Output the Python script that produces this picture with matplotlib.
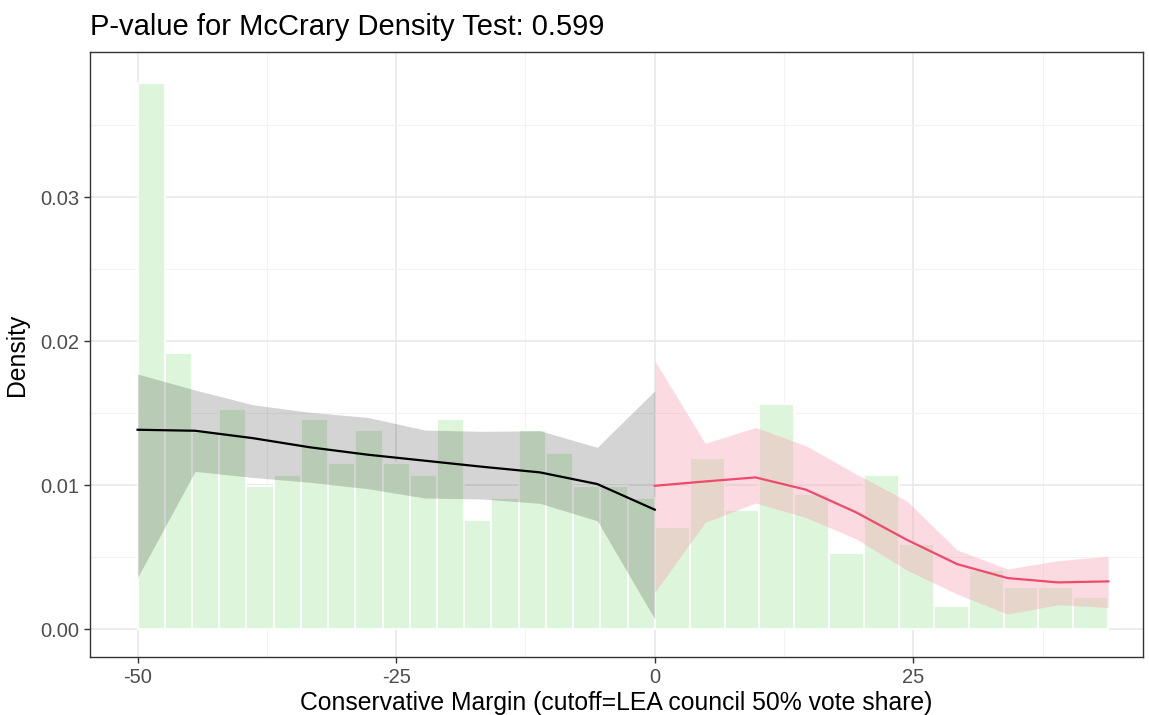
import numpy as np
import matplotlib
matplotlib.use("Agg")
import matplotlib.pyplot as plt

# ---- data ----
left_edges_start = -50.0
left_bin_width = 50.0 / 19
left_heights = [0.0379, 0.0192, 0.0137, 0.0153, 0.0099, 0.0107, 0.0146, 0.0115, 0.0138,
                0.0115, 0.0107, 0.0146, 0.0076, 0.0091, 0.0138, 0.0122, 0.0099, 0.0099, 0.0091]
right_bin_width = 43.84 / 13
right_heights = [0.0071, 0.0119, 0.0083, 0.0156, 0.0094, 0.0053, 0.0107, 0.0059,
                 0.0016, 0.0041, 0.0029, 0.0029, 0.0022]

left_x = [-50.0, -44.44, -38.89, -33.33, -27.78, -22.22, -16.67, -11.11, -5.56, 0.0]
left_fit = [0.01384, 0.01377, 0.01326, 0.01262, 0.01211, 0.01169, 0.01127, 0.01088, 0.01007, 0.00829]
left_hi = [0.01771, 0.0166, 0.01558, 0.01505, 0.0147, 0.01382, 0.01373, 0.01377, 0.01262, 0.01655]
left_lo = [0.00359, 0.01095, 0.01053, 0.01019, 0.00975, 0.0091, 0.00903, 0.00873, 0.00752, 0.00069]

right_x = [0.0, 4.87, 9.74, 14.61, 19.48, 24.36, 29.23, 34.10, 38.97, 43.84]
right_fit = [0.00995, 0.01025, 0.01053, 0.00968, 0.0081, 0.0062, 0.00451, 0.00354, 0.00324, 0.00331]
right_hi = [0.01863, 0.01289, 0.0140, 0.01273, 0.01076, 0.0089, 0.00549, 0.00417, 0.00475, 0.00505]
right_lo = [0.00255, 0.00741, 0.00875, 0.00775, 0.00625, 0.0041, 0.00243, 0.00104, 0.00169, 0.0015]

title = "P-value for McCrary Density Test: 0.599"
xlabel = "Conservative Margin (cutoff=LEA council 50% vote share)"
ylabel = "Density"
xticks = [-50, -25, 0, 25]
xticklabels = ["-50", "-25", "0", "25"]
yticks = [0.0, 0.01, 0.02, 0.03]
yticklabels = ["0.00", "0.01", "0.02", "0.03"]

# ---- plot ----
plt.rcParams['font.family'] = ['Liberation Sans', 'DejaVu Sans']
W, H = 1149, 715
fig = plt.figure(figsize=(W / 100, H / 100), dpi=100)
ax = fig.add_axes([90 / W, 1 - 657 / H, (1143 - 90) / W, (657 - 52) / H])

bar_fc = '#DDF5DA'
lx = left_edges_start + left_bin_width * np.arange(len(left_heights))
ax.bar(lx, left_heights, width=left_bin_width, align='edge', color=bar_fc,
       edgecolor='white', linewidth=1.3, zorder=2)
rx = right_bin_width * np.arange(len(right_heights))
ax.bar(rx, right_heights, width=right_bin_width, align='edge', color=bar_fc,
       edgecolor='white', linewidth=1.3, zorder=2)

ax.fill_between(left_x, left_lo, left_hi, color='black', alpha=0.17, linewidth=0, zorder=3)
ax.plot(left_x, left_fit, color='black', linewidth=1.6, zorder=4)
ax.fill_between(right_x, right_lo, right_hi, color='#F7A1B1', alpha=0.38, linewidth=0, zorder=3)
ax.plot(right_x, right_fit, color='#EE4A6E', linewidth=1.6, zorder=4)

ax.set_xlim(-54.6, 47.2)
ax.set_ylim(-0.00194, 0.04007)

ax.set_xticks(xticks)
ax.set_xticklabels(xticklabels)
ax.set_yticks(yticks)
ax.set_yticklabels(yticklabels)
ax.set_xticks([-37.5, -12.5, 12.5, 37.5], minor=True)
ax.set_yticks([0.005, 0.015, 0.025, 0.035], minor=True)
ax.grid(which='major', color='#EBEBEB', linewidth=1.3, zorder=0)
ax.grid(which='minor', color='#F2F2F2', linewidth=0.8, zorder=0)
ax.set_axisbelow(True)
ax.tick_params(which='minor', length=0)
ax.tick_params(which='major', length=4, width=1, color='#333333',
               labelsize=14.5, labelcolor='#4D4D4D', pad=4)
for s in ax.spines.values():
    s.set_color('#333333')
    s.set_linewidth(1.0)

ax.set_xlabel(xlabel, fontsize=17.8, color='black', labelpad=3)
ax.set_ylabel(ylabel, fontsize=17.8, color='black', labelpad=8)
fig.text(90 / W, 1 - 27 / H, title, fontsize=21, ha='left', va='center', color='black')

fig.savefig('out.png', dpi=100, facecolor='white')
